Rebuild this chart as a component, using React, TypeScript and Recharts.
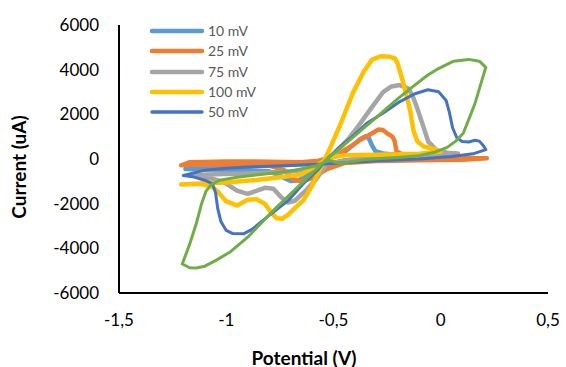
import React from 'react';
import { LineChart, Line, XAxis, YAxis, Legend } from 'recharts';

type Pt = [number, number];

// Potential (V), Current (uA) pairs, in sweep order (closed loops)
const mv10: Pt[] = [
  [-1.19, -450], [-1.14, -370], [-1.05, -340], [-0.9, -310], [-0.75, -280], [-0.62, -220],
  [-0.55, -60], [-0.5, 80], [-0.45, 300], [-0.41, 620], [-0.375, 900], [-0.35, 1020],
  [-0.335, 930], [-0.32, 600], [-0.305, 350], [-0.27, 250], [-0.2, 180], [-0.1, 120],
  [-0.05, 100], [-0.15, 40], [-0.3, 0], [-0.45, -60], [-0.55, -300], [-0.62, -700],
  [-0.66, -950], [-0.7, -980], [-0.74, -800], [-0.8, -550], [-0.95, -480], [-1.1, -470],
  [-1.19, -450],
];

const mv25: Pt[] = [
  [-1.21, -280], [-1.17, -140], [-1.0, -110], [-0.8, -120], [-0.65, -140], [-0.57, -80],
  [-0.52, 50], [-0.47, 270], [-0.42, 560], [-0.376, 850], [-0.33, 1100], [-0.29, 1320],
  [-0.27, 1300], [-0.25, 1150], [-0.225, 1000], [-0.215, 800], [-0.206, 330], [-0.17, 170],
  [-0.05, 90], [0.1, 50], [0.215, 30], [0.1, -30], [-0.1, -60], [-0.3, -90], [-0.45, -180],
  [-0.53, -450], [-0.6, -850], [-0.65, -1000], [-0.69, -900], [-0.73, -500], [-0.8, -300],
  [-1.0, -260], [-1.15, -260], [-1.21, -280],
];

const mv75: Pt[] = [
  [-1.16, -720], [-1.1, -800], [-1.04, -950], [-1.0, -1100], [-0.95, -1420], [-0.9, -1560],
  [-0.86, -1430], [-0.82, -1290], [-0.78, -1330], [-0.745, -1700], [-0.713, -1950],
  [-0.68, -1870], [-0.63, -1420], [-0.58, -900], [-0.53, -200], [-0.48, 400], [-0.43, 900],
  [-0.39, 1400], [-0.33, 2200], [-0.27, 2980], [-0.23, 3250], [-0.19, 3310], [-0.15, 3150],
  [-0.13, 2800], [-0.112, 2340], [-0.081, 1450], [-0.058, 775], [-0.02, 400], [0.03, 280],
  [0.08, 250], [0.0, 150], [-0.2, 90], [-0.4, 0], [-0.5, -150], [-0.6, -450], [-0.7, -560],
  [-0.88, -640], [-1.05, -680], [-1.16, -720],
];

const mv100: Pt[] = [
  [-1.21, -1140], [-1.12, -1110], [-1.065, -1250], [-1.04, -1450], [-1.0, -1900],
  [-0.95, -2080], [-0.9, -1820], [-0.86, -1800], [-0.82, -2000], [-0.79, -2400],
  [-0.765, -2650], [-0.74, -2680], [-0.71, -2480], [-0.68, -2200], [-0.64, -1840],
  [-0.6, -1200], [-0.56, -400], [-0.52, 400], [-0.47, 1500], [-0.41, 2950], [-0.36, 3900],
  [-0.32, 4450], [-0.28, 4600], [-0.24, 4580], [-0.213, 4500], [-0.2, 4250], [-0.174, 3390],
  [-0.143, 2190], [-0.128, 1300], [-0.11, 800], [-0.08, 560], [-0.035, 460], [0.0, 340],
  [-0.1, 240], [-0.3, 190], [-0.45, 170], [-0.52, 60], [-0.58, -300], [-0.65, -700],
  [-0.75, -820], [-0.85, -930], [-1.0, -1050], [-1.12, -1100], [-1.21, -1140],
];

const mv50: Pt[] = [
  [-1.2, -740], [-1.15, -810], [-1.1, -950], [-1.065, -1100], [-1.05, -1500], [-1.04, -2200],
  [-1.025, -2800], [-1.0, -3200], [-0.97, -3340], [-0.92, -3350], [-0.88, -3150],
  [-0.81, -2600], [-0.71, -1850], [-0.63, -1000], [-0.57, -450], [-0.52, 100], [-0.47, 550],
  [-0.4, 1100], [-0.345, 1600], [-0.27, 2050], [-0.19, 2570], [-0.12, 2920], [-0.06, 3100],
  [-0.01, 3010], [0.025, 2620], [0.04, 2100], [0.055, 1400], [0.075, 950], [0.1, 780],
  [0.13, 760], [0.16, 840], [0.18, 800], [0.2, 580], [0.21, 420], [0.15, 230], [0.05, 110],
  [-0.1, 0], [-0.3, -80], [-0.5, -200], [-0.7, -290], [-0.9, -360], [-1.0, -410],
  [-1.1, -500], [-1.2, -740],
];

const mvExtra: Pt[] = [
  [0.21, 4100], [0.18, 4380], [0.13, 4460], [0.06, 4380], [-0.02, 4000], [-0.06, 3760],
  [-0.13, 3240], [-0.2, 2700], [-0.3, 1860], [-0.4, 1050], [-0.53, 0], [-0.65, -1100],
  [-0.78, -2300], [-0.9, -3500], [-0.98, -4150], [-1.05, -4550], [-1.1, -4800],
  [-1.14, -4880], [-1.17, -4870], [-1.205, -4700], [-1.17, -3800], [-1.14, -2900],
  [-1.115, -2000], [-1.095, -1450], [-1.07, -1150], [-1.03, -950], [-0.95, -820],
  [-0.8, -650], [-0.68, -500], [-0.58, -300], [-0.52, -60], [-0.47, -210], [-0.42, -120],
  [-0.35, -20], [-0.2, 70], [-0.1, 150], [-0.03, 300], [0.03, 520], [0.07, 800],
  [0.105, 1150], [0.136, 1900], [0.16, 2500], [0.183, 3240], [0.21, 4100],
];

const xTicks = [-1.5, -1, -0.5, 0, 0.5];
const yTicks = [-6000, -4000, -2000, 0, 2000, 4000, 6000];

const toRows = (pts: Pt[]) => pts.map(([x, y]) => ({ x, y }));

const series = [
  { name: '10 mV', color: '#5B9BD5', width: 4.5, data: toRows(mv10), legend: true },
  { name: '25 mV', color: '#ED7D31', width: 4.5, data: toRows(mv25), legend: true },
  { name: '75 mV', color: '#A5A5A5', width: 4.5, data: toRows(mv75), legend: true },
  { name: '100 mV', color: '#FFC000', width: 4.5, data: toRows(mv100), legend: true },
  { name: '50 mV', color: '#4472C4', width: 3, data: toRows(mv50), legend: true },
  { name: 'Series6', color: '#70AD47', width: 3, data: toRows(mvExtra), legend: false },
];

const fmtX = (v: number) => String(v).replace('.', ',');

const renderLegend = () => (
  <div style={{ display: 'flex', flexDirection: 'column' }}>
    {series.filter((s) => s.legend).map((s) => (
      <div key={s.name} style={{ height: 20.25, display: 'flex', alignItems: 'center' }}>
        <svg width={58} height={8} style={{ display: 'block' }}>
          <line x1={4} y1={4} x2={54} y2={4} stroke={s.color}
            strokeWidth={s.width === 3 ? 3.5 : 4.5} strokeLinecap="round" />
        </svg>
        <span style={{ fontSize: 14, color: '#595959', marginLeft: 2, lineHeight: '20px' }}>{s.name}</span>
      </div>
    ))}
  </div>
);

export default function App() {
  return (
    <div style={{ position: 'absolute', left: 0, top: 0, fontFamily: 'Lato, "Open Sans", sans-serif', background: '#fff' }}>
      <LineChart width={566} height={367} margin={{ top: 25, right: 18, bottom: 14, left: 39 }}>
        <XAxis
          type="number"
          dataKey="x"
          domain={[-1.5, 0.5]}
          ticks={xTicks}
          tickFormatter={fmtX}
          allowDataOverflow
          height={60}
          axisLine={{ stroke: '#000', strokeWidth: 2 }}
          tickLine={false}
          tickSize={0}
          tickMargin={21}
          tick={{ fill: '#000', fontSize: 17 }}
          label={() => (
            <text x={304} y={357} textAnchor="middle" dominantBaseline="central"
              fontWeight="bold" fontSize={19} fill="#000">Potential (V)</text>
          )}
        />
        <YAxis
          type="number"
          dataKey="y"
          domain={[-6000, 6000]}
          ticks={yTicks}
          allowDataOverflow
          width={80}
          axisLine={{ stroke: '#000', strokeWidth: 2 }}
          tickLine={false}
          tickSize={0}
          tickMargin={20}
          tick={{ fill: '#000', fontSize: 17 }}
          label={() => (
            <text x={18} y={167} transform="rotate(-90 18 167)" textAnchor="middle"
              dominantBaseline="central" fontWeight="bold" fontSize={19} fill="#000">Current (uA)</text>
          )}
        />
        <Legend
          layout="horizontal"
          verticalAlign="middle"
          align="center"
          content={renderLegend}
          wrapperStyle={{ left: 148, top: 21, width: 120, height: 102 }}
        />
        {series.map((s) => (
          <Line
            key={s.name}
            data={s.data}
            dataKey="y"
            name={s.name}
            type="linear"
            stroke={s.color}
            strokeWidth={s.width}
            strokeLinejoin="round"
            strokeLinecap="round"
            dot={false}
            activeDot={false}
            legendType={s.legend ? 'line' : 'none'}
            isAnimationActive={false}
          />
        ))}
      </LineChart>
    </div>
  );
}
